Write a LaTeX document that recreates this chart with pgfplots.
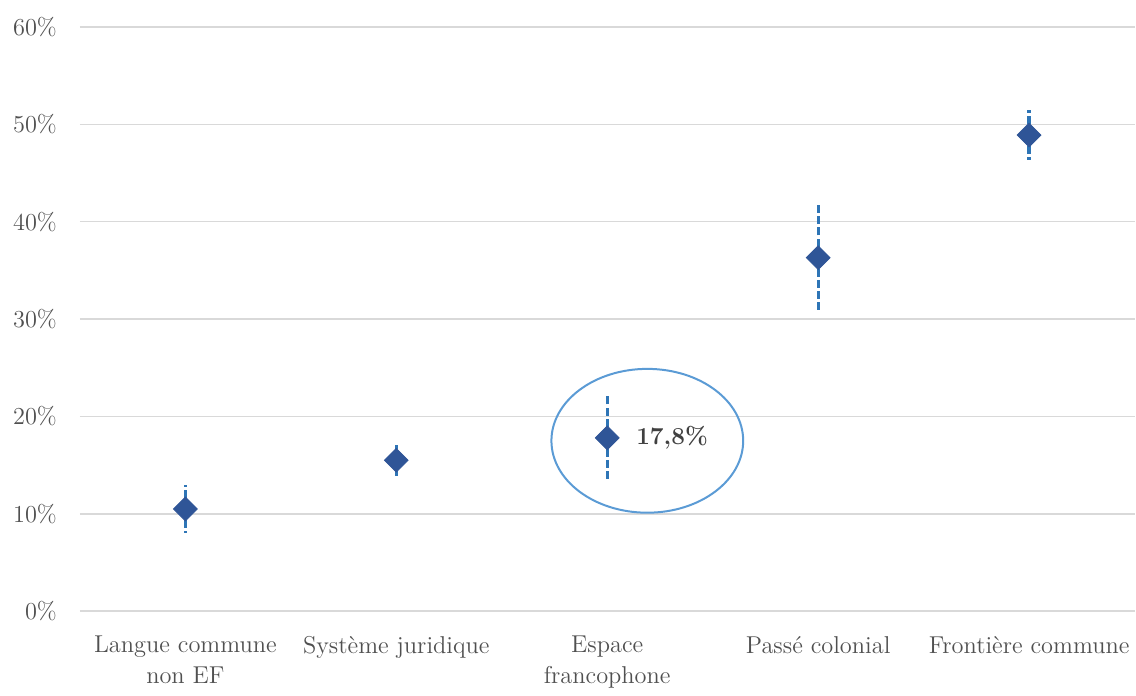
\documentclass[border=0pt]{standalone}
\usepackage{pgfplots}
\pgfplotsset{compat=1.18}
\definecolor{gridc}{HTML}{D9D9D9}
\definecolor{txt}{HTML}{595959}
\definecolor{markc}{HTML}{2F5597}
\definecolor{errc}{HTML}{2E75B6}
\definecolor{ellc}{HTML}{5B9BD5}
\begin{document}
\begin{tikzpicture}
\begin{axis}[
  scale only axis,
  width=528pt, height=292.5pt,
  xmin=-0.5, xmax=4.5,
  ymin=0, ymax=60,
  axis line style={draw=none},
  major tick length=0pt,
  ytick={0,10,...,60},
  yticklabel={\pgfmathprintnumber{\tick}\%},
  yticklabel style={xshift=-8pt, font=\fontsize{12.2}{14}\selectfont, text=txt!90!black},
  /pgf/number format/assume math mode=true,
  ymajorgrids,
  grid style={gridc, line width=0.75pt},
  xtick={0,1,2,3,4},
  xticklabels={{Langue commune\\non EF},{Système juridique},{Espace\\francophone},{Passé colonial},{Frontière commune}},
  xticklabel style={align=center, yshift=-9pt, font=\fontsize{12.2}{15.5}\selectfont, text=txt!90!black},
  clip=false,
]
\addplot[only marks, mark=square*, mark size=4.2pt,
  mark options={rotate=45, fill=markc, draw=markc},
  error bars/.cd, y dir=both, y explicit, error mark=none,
  error bar style={errc, line width=1.6pt, dash pattern=on 4pt off 1.6pt}]
coordinates {
  (0,10.5) +- (0,2.45)
  (1,15.5) +- (0,1.6)
  (2,17.8) +- (0,4.5)
  (3,36.3) +- (0,5.4)
  (4,48.9) +- (0,2.6)
};
\node[anchor=west, text=black!75, font=\fontsize{12.2}{14}\selectfont\bfseries] at (axis cs:2,17.8) [xshift=11pt] {17,8\%};
\draw[ellc, line width=1pt] (axis cs:2.19,17.5) ellipse [x radius=48pt, y radius=36pt];
\end{axis}
\path ([xshift=-40pt,yshift=-38.5pt]current axis.south west) rectangle ([yshift=13.5pt]current axis.north east);
\end{tikzpicture}
\end{document}
